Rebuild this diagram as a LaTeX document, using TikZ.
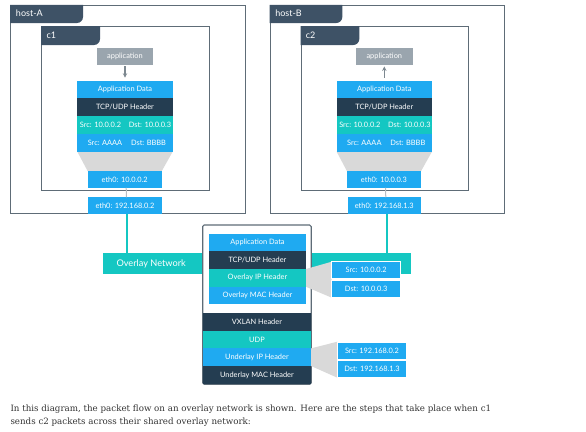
\documentclass[tikz,border=0pt]{standalone}
\usepackage{fontspec}
\usetikzlibrary{arrows.meta}
\setmainfont{DejaVu Serif}
\newfontfamily\diagfont{Lato}
\begin{document}
\begin{tikzpicture}[x=1pt,y=-1pt,
  every node/.style={inner sep=0pt, outer sep=0pt},
  cell/.style={font=\diagfont\fontsize{7.4}{8}\selectfont, text=white, minimum height=17.75},
  blu/.style={fill=cellblue},
  navy/.style={fill=cellnavy},
  teal/.style={fill=cellteal},
  hostbox/.style={draw=framegray, line width=1pt},
  tab/.style={fill=tabslate},
  tablabel/.style={font=\diagfont\fontsize{9}{10}\selectfont, text=white, anchor=west},
  funnel/.style={fill=funnelgray},
  addr/.style={cell, blu, draw=white, line width=0.8pt, minimum height=17},
  appbox/.style={cell, fill=appgray, minimum width=56.6, minimum height=17.3},
  upstream/.style={draw=arrowgray, line width=1.1pt, -{Stealth[length=4.5pt,width=4.5pt]}},
  link/.style={draw=linkgray, line width=1pt},
  wire/.style={draw=cellteal, line width=2pt}
]
\definecolor{cellblue}{HTML}{1FAAF1}
\definecolor{cellnavy}{HTML}{243D51}
\definecolor{cellteal}{HTML}{14C7C2}
\definecolor{tabslate}{HTML}{3E5266}
\definecolor{framegray}{HTML}{5E6C77}
\definecolor{appgray}{HTML}{9AA5AE}
\definecolor{arrowgray}{HTML}{7D8890}
\definecolor{funnelgray}{HTML}{D9D9D9}
\definecolor{linkgray}{HTML}{B8BEC3}
\definecolor{textgray}{HTML}{333333}

\useasboundingbox (0,0) rectangle (586,431);

% ---------- one host with its container ----------
\foreach \hname/\cname/\dx/\s/\cip/\hip in
  {host-A/c1/0/A/10.0.0.2/192.168.0.2, host-B/c2/259.3/B/10.0.0.3/192.168.1.3}{
  \begin{scope}[xshift=\dx]
    % host frame and tab
    \draw[hostbox] (10.7,5.3) rectangle (245,213.5);
    \fill[tab] (10.2,4.8) -- (83,4.8) -- (83,17) arc (0:90:6) -- (10.2,23) -- cycle;
    \node[tablabel] (hlab\s) at (16,13.5) {\hname};
    % container frame and tab
    \draw[hostbox] (41.7,26.7) rectangle (209,190.3);
    \fill[tab] (41.2,26.2) -- (100,26.2) -- (100,39) arc (0:90:6) -- (41.2,45) -- cycle;
    \node[tablabel] (clab\s) at (46.5,35.5) {\cname};
    % funnel towards eth0
    \fill[funnel] (77.3,151.6) -- (172.7,151.6) -- (161.7,171.2) -- (87.7,171.2) -- cycle;
    % application and packet stack
    \node[appbox] (app\s) at (125,56.3) {application};
    \node[cell, blu, minimum width=95.4] (data\s) at (125,89.575) {Application Data};
    \node[cell, navy, minimum width=95.4] (tcp\s) at (125,107.325) {TCP/UDP Header};
    \node[cell, teal, minimum width=95.4] (ip\s) at (125,125.075) {};
    \node[cell, blu, minimum width=95.4] (mac\s) at (125,142.825) {};
    \node[cell] (ipsrc\s) at (100.5,125.075) {Src: 10.0.0.2};
    \node[cell] (ipdst\s) at (150,125.075) {Dst: 10.0.0.3};
    \node[cell] (macsrc\s) at (105,142.825) {Src: AAAA};
    \node[cell] (macdst\s) at (148.5,142.825) {Dst: BBBB};
    % interfaces
    \node[cell, blu, minimum width=74, minimum height=16.7] (ceth\s) at (124.7,179.4) {eth0: \cip};
    \node[cell, blu, minimum width=73.4, minimum height=16.7] (heth\s) at (125,205.6) {eth0: \hip};
    \draw[link] ([xshift=1.5]ceth\s.south) -- ([xshift=1.5]heth\s.north);
  \end{scope}
}
% data flows down in c1 and up in c2
\draw[upstream, shorten <=1.5pt, shorten >=3pt] (appA) -- (dataA);
\draw[upstream, shorten <=3pt, shorten >=1.5pt] (dataB) -- (appB);

% ---------- overlay network ----------
\node[fill=cellteal, minimum width=307.4, minimum height=21] (overlay) at (257,263.8) {};
\node[font=\diagfont\fontsize{9.2}{10}\selectfont, text=white, anchor=west] (overlaylab) at (116.5,264) {Overlay Network};
\draw[wire] ([xshift=1.7]hethA.south) -- ([xshift=1.7]hethA.south |- overlay.north);
\draw[wire] ([xshift=2.5]hethB.south) -- ([xshift=2.5]hethB.south |- overlay.north);

% ---------- encapsulated packet ----------
\draw[draw=framegray, fill=white, line width=1.1pt, rounded corners=1.5pt] (202.7,225) rectangle (311.2,384.3);
\node[cell, blu, minimum width=97] (odata) at (257.5,242.5) {Application Data};
\node[cell, navy, minimum width=97] (otcp) at (257.5,260.3) {TCP/UDP Header};
\node[cell, teal, minimum width=97] (oip) at (257.5,277.9) {Overlay IP Header};
\node[cell, blu, minimum width=97] (omac) at (257.5,295.4) {Overlay MAC Header};
\node[cell, navy, minimum width=108.5] (vxlan) at (256.95,322.2) {VXLAN Header};
\node[cell, teal, minimum width=108.5] (udp) at (256.95,339.7) {UDP};
\node[cell, blu, minimum width=108.5] (uip) at (256.95,357.2) {Underlay IP Header};
\node[cell, navy, minimum width=108.5, minimum height=18.3] (umac) at (256.95,375.2) {Underlay MAC Header};

% overlay IP header addresses
\fill[funnel] (oip.north east) -- (331.7,261.7) -- (331.7,297.7) -- (oip.south east) -- cycle;
\node[addr, minimum width=69] (osrc) at (366.2,270) {Src: 10.0.0.2};
\node[addr, minimum width=69] (odst) at (366.2,289.2) {Dst: 10.0.0.3};

% underlay IP header addresses
\fill[funnel] (uip.north east) -- (337.3,341.7) -- (337.3,377.7) -- (uip.south east) -- cycle;
\node[addr, minimum width=69.4] (usrc) at (372,350.4) {Src: 192.168.0.2};
\node[addr, minimum width=69.4] (udst) at (372,369.2) {Dst: 192.168.1.3};

% ---------- caption ----------
\node[anchor=west, text=textgray, font=\fontsize{8.7}{10}\selectfont] (cap1) at (10.5,409)
  {In this diagram, the packet flow on an overlay network is shown. Here are the steps that take place when c1};
\node[anchor=west, text=textgray, font=\fontsize{8.7}{10}\selectfont] (cap2) at (10.5,421.8)
  {sends c2 packets across their shared overlay network:};
\end{tikzpicture}
\end{document}
